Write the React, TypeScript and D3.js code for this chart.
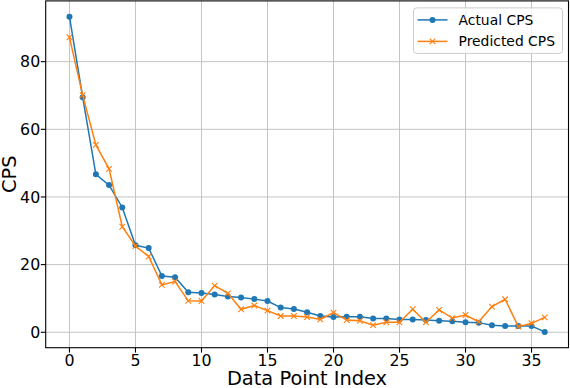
import React from 'react';
import * as d3 from 'd3';

const width = 570;
const height = 388;
const margin = { top: 0.9, right: 1.5, bottom: 40.3, left: 45.7 };

const actualCPS = [
  93.3, 69.5, 46.7, 43.5, 36.9, 25.7, 24.9, 16.6, 16.3, 11.8,
  11.6, 11.2, 10.6, 10.3, 9.8, 9.25, 7.3, 6.9, 5.9, 4.8,
  4.5, 4.6, 4.6, 4.1, 4.1, 3.8, 3.8, 3.6, 3.4, 3.25,
  2.95, 2.85, 2.05, 1.86, 1.86, 1.86, 0.1,
];
const predictedCPS = [
  87.2, 70.1, 55.4, 48.3, 31.2, 25.5, 22.4, 14.0, 15.0, 9.3,
  9.25, 13.8, 11.5, 6.8, 7.9, 6.4, 4.8, 4.8, 4.5, 3.8,
  5.8, 3.6, 3.4, 2.1, 2.95, 2.95, 6.8, 2.95, 6.6, 4.2,
  5.1, 3.1, 7.6, 9.75, 1.66, 2.65, 4.4,
];
const xTicks = [0, 5, 10, 15, 20, 25, 30, 35];
const yTicks = [0, 20, 40, 60, 80];

const blue = '#1f77b4';
const orange = '#ff7f0e';
const font = 'DejaVu Sans, sans-serif';

const App = () => {
  const innerWidth = width - margin.left - margin.right;
  const innerHeight = height - margin.top - margin.bottom;
  const n = actualCPS.length;

  const all = actualCPS.concat(predictedCPS);
  const yMin = d3.min(all) as number;
  const yMax = d3.max(all) as number;
  const yPad = (yMax - yMin) * 0.05;
  const xPad = (n - 1) * 0.05;

  const xScale = d3.scaleLinear().domain([-xPad, n - 1 + xPad]).range([0, innerWidth]);
  const yScale = d3.scaleLinear().domain([yMin - yPad, yMax + yPad]).range([innerHeight, 0]);

  const line = d3.line<number>()
    .x((_, i) => xScale(i))
    .y(d => yScale(d));

  const cross = (cx: number, cy: number, s: number) =>
    `M${cx - s},${cy - s}L${cx + s},${cy + s}M${cx - s},${cy + s}L${cx + s},${cy - s}`;

  return (
    <svg width={width} height={height} style={{ position: 'absolute', left: 0, top: 0 }}>
      <rect width={width} height={height} fill="white" />
      <g transform={`translate(${margin.left}, ${margin.top})`}>
        {xTicks.map(t => (
          <g key={'x' + t} transform={`translate(${xScale(t)}, 0)`}>
            <line y1={0} y2={innerHeight} stroke="#c4c4c4" strokeWidth={1} />
            <line y1={innerHeight} y2={innerHeight + 4.9} stroke="black" strokeWidth={1.1} />
            <text y={innerHeight + 18} textAnchor="middle" fontFamily={font} fontSize={15.8} fill="#000">
              {t}
            </text>
          </g>
        ))}
        {yTicks.map(t => (
          <g key={'y' + t} transform={`translate(0, ${yScale(t)})`}>
            <line x1={0} x2={innerWidth} stroke="#c4c4c4" strokeWidth={1} />
            <line x1={-4.9} x2={0} stroke="black" strokeWidth={1.1} />
            <text x={-5.5} dy="0.36em" textAnchor="end" fontFamily={font} fontSize={15.8} fill="#000">
              {t}
            </text>
          </g>
        ))}

        <path d={line(actualCPS) as string} fill="none" stroke={blue} strokeWidth={1.5} />
        {actualCPS.map((d, i) => (
          <circle key={'a' + i} cx={xScale(i)} cy={yScale(d)} r={3} fill={blue} />
        ))}
        <path d={line(predictedCPS) as string} fill="none" stroke={orange} strokeWidth={1.5} />
        {predictedCPS.map((d, i) => (
          <path key={'p' + i} d={cross(xScale(i), yScale(d), 2.8)} stroke={orange} strokeWidth={1.1} fill="none" />
        ))}

        <rect x={0} y={0} width={innerWidth} height={innerHeight} fill="none" stroke="black" strokeWidth={1.1} />

        <g transform={`translate(${innerWidth - 155}, 7)`}>
          <rect x={0} y={0} width={149} height={45.5} rx={3} fill="white" fillOpacity={0.8} stroke="#cccccc" strokeWidth={1} />
          <line x1={4} x2={34} y1={12} y2={12} stroke={blue} strokeWidth={1.5} />
          <circle cx={19} cy={12} r={3} fill={blue} />
          <text x={45} y={12} dy="0.36em" fontFamily={font} fontSize={13.9} fill="#000">Actual CPS</text>
          <line x1={4} x2={34} y1={33.5} y2={33.5} stroke={orange} strokeWidth={1.5} />
          <path d={cross(19, 33.5, 2.8)} stroke={orange} strokeWidth={1.1} fill="none" />
          <text x={45} y={33.5} dy="0.36em" fontFamily={font} fontSize={13.9} fill="#000">Predicted CPS</text>
        </g>
      </g>
      <text
        x={307}
        y={385}
        textAnchor="middle"
        fontFamily={font}
        fontSize={19.4}
        fill="#000"
      >
        Data Point Index
      </text>
      <text
        transform={`translate(16, ${margin.top + innerHeight / 2}) rotate(-90)`}
        textAnchor="middle"
        fontFamily={font}
        fontSize={19.4}
        fill="#000"
      >
        CPS
      </text>
    </svg>
  );
};

export default App;
